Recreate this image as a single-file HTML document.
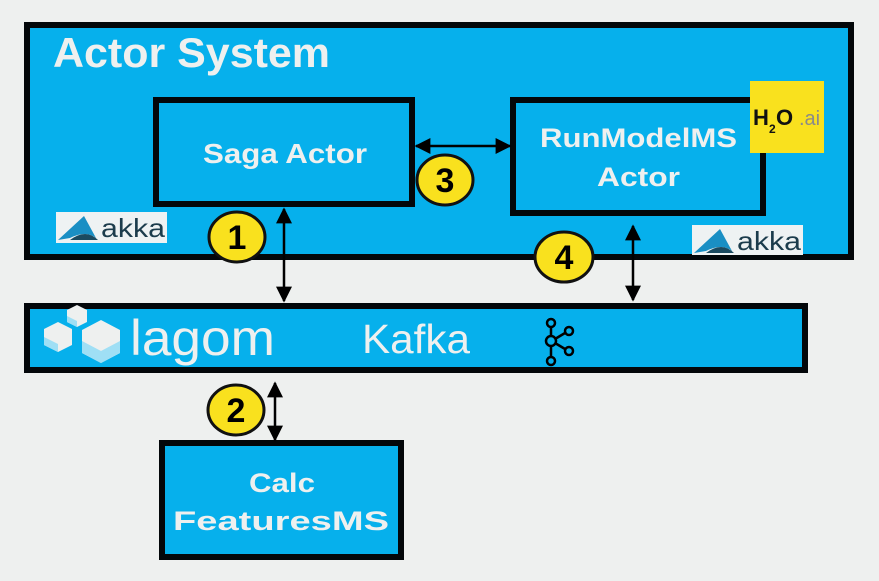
<!DOCTYPE html>
<html><head><meta charset="utf-8"><style>
html,body{margin:0;padding:0;background:#eef0ef;}
svg{display:block;}
text{font-family:"Liberation Sans",sans-serif;}
</style></head><body>
<svg width="879" height="581" viewBox="0 0 879 581" xmlns="http://www.w3.org/2000/svg">
<defs>
<marker id="ah" viewBox="0 0 10 10" refX="9" refY="5" markerWidth="16" markerHeight="16" markerUnits="userSpaceOnUse" orient="auto-start-reverse">
<path d="M0,0 L10,5 L0,10 z" fill="#000"/></marker>
</defs>
<rect width="879" height="581" fill="#eef0ef"/>
<rect x="27" y="25" width="824" height="232" fill="#06b0ec" stroke="#03070a" stroke-width="6"/>
<text x="53" y="67" font-size="42" font-weight="bold" fill="#eef0ef" textLength="277" lengthAdjust="spacingAndGlyphs">Actor System</text>
<rect x="156" y="100" width="256" height="104" fill="#06b0ec" stroke="#03070a" stroke-width="6"/>
<text x="203" y="163" font-size="28" font-weight="bold" fill="#eef0ef" textLength="164" lengthAdjust="spacingAndGlyphs">Saga Actor</text>
<rect x="513" y="100" width="250" height="113" fill="#06b0ec" stroke="#03070a" stroke-width="6"/>
<text x="540" y="147" font-size="27" font-weight="bold" fill="#eef0ef" textLength="197" lengthAdjust="spacingAndGlyphs">RunModelMS</text>
<text x="597" y="186" font-size="27" font-weight="bold" fill="#eef0ef" textLength="83" lengthAdjust="spacingAndGlyphs">Actor</text>
<rect x="750" y="81" width="74" height="72" fill="#f9e11e"/>
<text x="753" y="125" font-size="22" font-weight="bold" fill="#111">H</text>
<text x="769" y="133" font-size="12" font-weight="bold" fill="#111">2</text>
<text x="776" y="125" font-size="22" font-weight="bold" fill="#111">O</text>
<text x="799" y="125" font-size="20" fill="#8a8a8a">.ai</text>
<g transform="translate(56,212)">
<rect width="111" height="31" fill="#eef2f3"/>
<path d="M2,28 L28,4 L40,26 Q30,18 14,26 z" fill="#1a8fc4"/>
<path d="M14,28 Q30,16 42,28 z" fill="#1b4a60"/>
<text x="45" y="25" font-size="26" fill="#1c3c4c" textLength="64" lengthAdjust="spacingAndGlyphs">akka</text>
</g>
<g transform="translate(692,225)">
<rect width="111" height="30" fill="#eef2f3"/>
<path d="M2,28 L28,4 L40,26 Q30,18 14,26 z" fill="#1a8fc4"/>
<path d="M14,28 Q30,16 42,28 z" fill="#1b4a60"/>
<text x="45" y="25" font-size="26" fill="#1c3c4c" textLength="64" lengthAdjust="spacingAndGlyphs">akka</text>
</g>
<rect x="27" y="306" width="778" height="64" fill="#06b0ec" stroke="#03070a" stroke-width="6"/>
<g fill="#eef0ef">
<polygon points="77,305 87,310 87,322 77,327 67,322 67,310"/>
<polygon points="58,322 72,329 72,345 58,352 44,345 44,329"/>
<polygon points="101,320 120,330 120,353 101,363 82,353 82,330"/>
</g>
<g fill="#9fdff5">
<polygon points="67,316 77,321 77,327 67,322"/>
<polygon points="44,337 58,344 58,352 44,345"/>
<polygon points="82,341 101,351 101,363 82,353"/>
<polygon points="120,341 101,351 101,363 120,353"/>
</g>
<text x="130" y="355" font-size="50" fill="#eef0ef" textLength="145" lengthAdjust="spacingAndGlyphs">lagom</text>
<text x="362" y="353" font-size="41" fill="#eef0ef" textLength="108" lengthAdjust="spacingAndGlyphs">Kafka</text>
<g fill="none" stroke="#000" stroke-width="2.5">
<circle cx="551" cy="323" r="4"/>
<circle cx="551" cy="341" r="5"/>
<circle cx="551" cy="361" r="4"/>
<circle cx="569" cy="331" r="4"/>
<circle cx="569" cy="351" r="4"/>
<line x1="551" y1="327" x2="551" y2="336"/><line x1="551" y1="346" x2="551" y2="357"/>
<line x1="555" y1="339" x2="565" y2="333"/><line x1="555" y1="343" x2="565" y2="349"/>
</g>
<rect x="162" y="443" width="239" height="114" fill="#06b0ec" stroke="#03070a" stroke-width="6"/>
<text x="249" y="492" font-size="27" font-weight="bold" fill="#eef0ef" textLength="66" lengthAdjust="spacingAndGlyphs">Calc</text>
<text x="173" y="530" font-size="27" font-weight="bold" fill="#eef0ef" textLength="216" lengthAdjust="spacingAndGlyphs">FeaturesMS</text>
<g stroke="#000" stroke-width="2.5" fill="none">
<line x1="284" y1="209" x2="284" y2="301" marker-start="url(#ah)" marker-end="url(#ah)"/>
<line x1="416" y1="146" x2="510" y2="146" marker-start="url(#ah)" marker-end="url(#ah)"/>
<line x1="633" y1="226" x2="633" y2="300" marker-start="url(#ah)" marker-end="url(#ah)"/>
<line x1="275" y1="383" x2="275" y2="440" marker-start="url(#ah)" marker-end="url(#ah)"/>
</g>
<g stroke="#111" stroke-width="3" fill="#f9e11e">
<ellipse cx="237" cy="237" rx="28" ry="25"/>
<ellipse cx="445" cy="180" rx="28" ry="25"/>
<ellipse cx="564" cy="257" rx="29" ry="25"/>
<ellipse cx="236" cy="410" rx="28" ry="25"/>
</g>
<g font-size="34" font-weight="bold" fill="#000" text-anchor="middle">
<text x="237" y="249">1</text>
<text x="445" y="192">3</text>
<text x="564" y="269">4</text>
<text x="236" y="422">2</text>
</g>
</svg>
</body></html>
